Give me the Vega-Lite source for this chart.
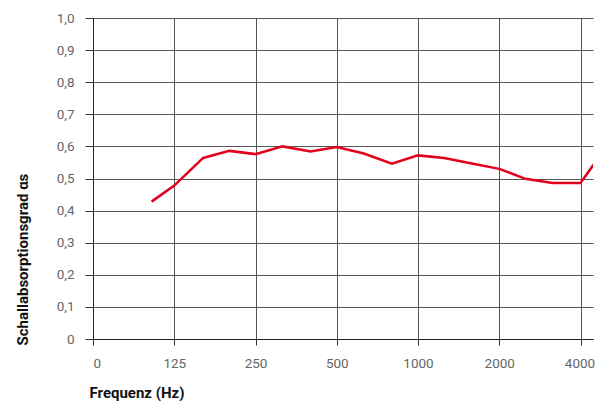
{
  "$schema": "https://vega.github.io/schema/vega-lite/v6.json",
  "autosize": "none",
  "width": 500,
  "height": 321,
  "padding": {"left": 93, "top": 18, "right": 2, "bottom": 65},
  "config": {
    "view": {"stroke": null},
    "font": "Roboto",
    "axis": {
      "labelFont": "Roboto",
      "labelFontSize": 13.5,
      "labelColor": "#666666",
      "titleFont": "Roboto",
      "titleFontSize": 15,
      "titleFontWeight": "bold",
      "titleColor": "#111111",
      "gridColor": "#555555",
      "gridWidth": 1,
      "gridOpacity": 1,
      "domainColor": "#222222",
      "domainWidth": 1,
      "tickColor": "#333333",
      "tickWidth": 1
    }
  },
  "data": {
    "values": [
      {"f": 103, "a": 0.428},
      {"f": 125, "a": 0.478},
      {"f": 160, "a": 0.564},
      {"f": 200, "a": 0.586},
      {"f": 250, "a": 0.576},
      {"f": 315, "a": 0.600},
      {"f": 400, "a": 0.584},
      {"f": 500, "a": 0.598},
      {"f": 630, "a": 0.578},
      {"f": 800, "a": 0.546},
      {"f": 1000, "a": 0.572},
      {"f": 1250, "a": 0.564},
      {"f": 1600, "a": 0.546},
      {"f": 2000, "a": 0.530},
      {"f": 2500, "a": 0.499},
      {"f": 3150, "a": 0.486},
      {"f": 4000, "a": 0.486},
      {"f": 5000, "a": 0.600}
    ]
  },
  "mark": {"type": "line", "color": "#e2001a", "strokeWidth": 2.5, "clip": true},
  "encoding": {
    "x": {
      "field": "f",
      "type": "quantitative",
      "scale": {"type": "log", "base": 2, "domain": [62.5, 4450], "nice": false},
      "axis": {
        "title": "Frequenz (Hz)",
        "values": [62.5, 125, 250, 500, 1000, 2000, 4000],
        "labelExpr": "datum.value < 100 ? '0' : format(datum.value, 'd')",
        "labelOffset": {"condition": {"test": "datum.value == 4000", "value": -1}, "value": 0},
        "tickSize": 6,
        "labelPadding": 11,
        "grid": true,
        "titleAnchor": "start",
        "titleAlign": "left",
        "titleBaseline": "middle",
        "titleX": -4,
        "titleY": 53
      }
    },
    "y": {
      "field": "a",
      "type": "quantitative",
      "scale": {"domain": [0, 1], "nice": false},
      "axis": {
        "title": "Schallabsorptionsgrad αs",
        "values": [0, 0.1, 0.2, 0.3, 0.4, 0.5, 0.6, 0.7, 0.8, 0.9, 1.0],
        "labelExpr": "datum.value == 0 ? '0' : replace(format(datum.value, '.1f'), '.', ',')",
        "tickSize": 8,
        "labelPadding": 11,
        "grid": true,
        "titleAnchor": "start",
        "titleAngle": -90,
        "titleAlign": "left",
        "titleBaseline": "middle",
        "titleX": -71,
        "titleY": 327
      }
    }
  }
}
